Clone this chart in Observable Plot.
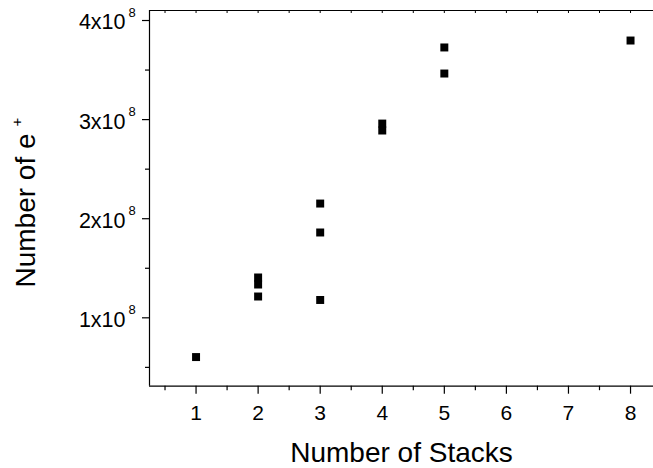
<!DOCTYPE html>
<html>
<head>
<meta charset="utf-8">
<script src="https://cdn.jsdelivr.net/npm/d3@7"></script>
<script src="https://cdn.jsdelivr.net/npm/@observablehq/plot@0.6"></script>
<style>
  html, body { margin: 0; padding: 0; background: #fff; }
  svg { font-family: "Liberation Sans", Arial, Helvetica, sans-serif; }
</style>
</head>
<body>
<div id="chart"></div>
<script>
// Data
const stacks = [1, 2, 2, 2, 3, 3, 3, 4, 4, 5, 5, 8];
const positrons = [6.04e7, 1.407e8, 1.336e8, 1.215e8, 2.153e8, 1.861e8, 1.18e8, 2.96e8, 2.89e8, 3.728e8, 3.465e8, 3.798e8];
const xTicks = [1, 2, 3, 4, 5, 6, 7, 8];
const xMinorTicks = [0.5, 1.5, 2.5, 3.5, 4.5, 5.5, 6.5, 7.5];
const xTopTicks = [0.5, 1, 1.5, 2, 2.5, 3, 3.5, 4, 4.5, 5, 5.5, 6, 6.5, 7, 7.5, 8];
const yTicks = [1e8, 2e8, 3e8, 4e8];
const yTickMantissa = ["1x10", "2x10", "3x10", "4x10"];
const yTickExponent = ["8", "8", "8", "8"];
const yMinorTicks = [0.5e8, 1.5e8, 2.5e8, 3.5e8];
const xLabel = "Number of Stacks";
const yLabel = "Number of e";
const yLabelSup = "+";

const points = stacks.map((s, i) => ({x: s, y: positrons[i]}));
const yTickData = yTicks.map((v, i) => ({y: v, m: yTickMantissa[i], e: yTickExponent[i]}));

const xDomain = [0.25, 8.37];
const yDomain = [3.1e7, 4.101e8];

const chart = Plot.plot({
  width: 653,
  height: 468,
  marginLeft: 149,
  marginRight: 0,
  marginTop: 10,
  marginBottom: 82.3,
  style: {background: "#fff", color: "#000", fontFamily: "'Liberation Sans', Arial, Helvetica, sans-serif"},
  x: {domain: xDomain, axis: null},
  y: {domain: yDomain, axis: null},
  marks: [
    // frame (left, top, bottom)
    Plot.ruleX([xDomain[0]], {stroke: "#000", strokeWidth: 1.2}),
    Plot.ruleY([yDomain[0]], {stroke: "#000", strokeWidth: 1.2}),
    Plot.ruleY([yDomain[1]], {stroke: "#000", strokeWidth: 1.2}),
    // x axis major ticks + labels
    Plot.axisX({ticks: xTicks, anchor: "bottom", tickSize: 8, tickPadding: 11, fontSize: 21, tickFormat: d => String(d), label: null, strokeWidth: 1.2}),
    Plot.axisX({ticks: xMinorTicks, anchor: "bottom", tickSize: 4.5, tickFormat: () => "", label: null, strokeWidth: 1.2}),
    Plot.axisX({ticks: xTopTicks, anchor: "top", tickSize: -2, tickFormat: () => "", label: null, strokeWidth: 1}),
    // y axis ticks
    Plot.axisY({ticks: yTicks, anchor: "left", tickSize: 7, tickFormat: () => "", label: null, strokeWidth: 1.2}),
    Plot.axisY({ticks: yMinorTicks, anchor: "left", tickSize: 4, tickFormat: () => "", label: null, strokeWidth: 1.2}),
    // y tick labels with superscript
    Plot.text(yTickData, {y: "y", text: "m", frameAnchor: "left", textAnchor: "end", lineAnchor: "middle", dx: -24, dy: 2, fontSize: 21.5, fill: "#000"}),
    Plot.text(yTickData, {y: "y", text: "e", frameAnchor: "left", textAnchor: "start", lineAnchor: "middle", dx: -21, dy: -7.5, fontSize: 13, fill: "#000"}),
    // points
    Plot.dot(points, {x: "x", y: "y", symbol: "square", r: 4.5, fill: "#000", stroke: null}),
    // axis titles
    Plot.text([xLabel], {frameAnchor: "bottom", textAnchor: "middle", lineAnchor: "middle", dy: 66.7, fontSize: 28, fill: "#000"}),
    Plot.text([yLabel], {frameAnchor: "top-left", textAnchor: "middle", lineAnchor: "middle", dx: -123, dy: 200, rotate: -90, fontSize: 28, fill: "#000"}),
    Plot.text([yLabelSup], {frameAnchor: "top-left", textAnchor: "middle", lineAnchor: "middle", dx: -132.5, dy: 111.5, rotate: -90, fontSize: 15, fill: "#000"})
  ]
});
document.getElementById("chart").appendChild(chart);
</script>
</body>
</html>
